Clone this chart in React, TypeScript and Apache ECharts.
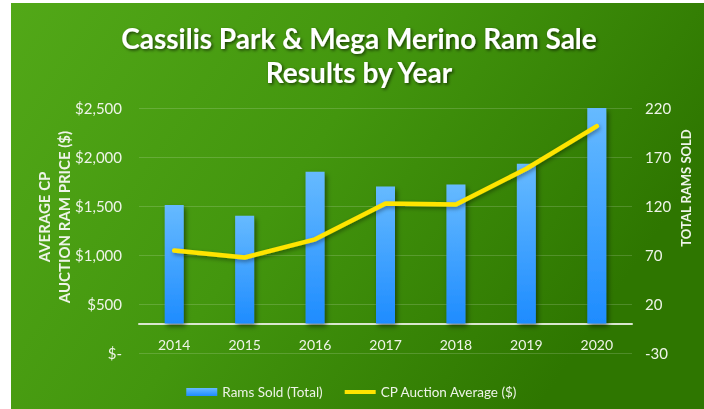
import React, { useEffect, useRef } from "react";
import * as echarts from "echarts";

const years = ["2014", "2015", "2016", "2017", "2018", "2019", "2020"];
const ramsSold = [121, 110, 155, 140, 142, 163, 220];
const auctionAverage = [1045, 975, 1160, 1525, 1515, 1880, 2315];
const leftTicks = { min: 0, max: 2500, interval: 500 };
const rightTicks = { min: -30, max: 220, interval: 50 };

const FONT = "Lato";
const LABEL = "#eef4e8";

export default function App() {
  const ref = useRef<HTMLDivElement>(null);
  useEffect(() => {
    const chart = echarts.init(ref.current!, null, { renderer: "svg" });
    const titleStyle = {
      font: `bold 28px ${FONT}`,
      fill: "#ffffff",
      align: "center",
      verticalAlign: "middle",
      textShadowColor: "rgba(0,0,0,0.6)",
      textShadowBlur: 3,
      textShadowOffsetX: 1.5,
      textShadowOffsetY: 1.5,
    };
    chart.setOption({
      animation: false,
      textStyle: { fontFamily: FONT },
      graphic: [
        {
          type: "rect",
          z: -10,
          shape: { x: 11, y: 3, width: 693, height: 406 },
          style: {
            fill: new echarts.graphic.LinearGradient(0, 0, 1, 0.4, [
              { offset: 0, color: "#52a818" },
              { offset: 0.5, color: "#43960e" },
              { offset: 1, color: "#2e7600" },
            ]),
          },
        },
        {
          type: "text",
          x: 359,
          y: 38,
          style: { text: "Cassilis Park & Mega Merino Ram Sale", ...titleStyle },
        },
        {
          type: "text",
          x: 359,
          y: 72,
          style: { text: "Results by Year", ...titleStyle },
        },
        {
          type: "text",
          x: 44,
          y: 217,
          rotation: Math.PI / 2,
          style: {
            text: "AVERAGE CP",
            font: `bold 15px ${FONT}`,
            fill: LABEL,
            align: "center",
            verticalAlign: "middle",
          },
        },
        {
          type: "text",
          x: 64,
          y: 217,
          rotation: Math.PI / 2,
          style: {
            text: "AUCTION RAM PRICE ($)",
            font: `bold 15px ${FONT}`,
            fill: LABEL,
            align: "center",
            verticalAlign: "middle",
          },
        },
        {
          type: "text",
          x: 686,
          y: 188,
          rotation: Math.PI / 2,
          style: {
            text: "TOTAL RAMS SOLD",
            font: `bold 13px ${FONT}`,
            fill: LABEL,
            align: "center",
            verticalAlign: "middle",
          },
        },
      ],
      grid: { left: 139, right: 72, top: 108, bottom: 56 },
      legend: {
        top: 380,
        left: "center",
        itemGap: 22,
        itemWidth: 31,
        itemHeight: 8,
        symbolKeepAspect: true,
        textStyle: { color: LABEL, fontSize: 13.5, fontFamily: FONT },
        data: [
          { name: "Rams Sold (Total)", icon: "rect" },
          {
            name: "CP Auction Average ($)",
            icon: "path://M0,2 L31,2 L31,6 L0,6 Z",
            itemStyle: { color: "#ffe400" },
          },
        ],
      },
      xAxis: {
        type: "category",
        data: years,
        axisLine: {
          onZero: true,
          onZeroAxisIndex: 1,
          lineStyle: { color: "#d9e6cf", width: 2 },
        },
        axisTick: { show: false },
        axisLabel: { color: LABEL, fontSize: 14, margin: -16 },
      },
      yAxis: [
        {
          type: "value",
          ...leftTicks,
          position: "left",
          axisLine: { show: false },
          axisTick: { show: false },
          splitLine: { lineStyle: { color: "rgba(255,255,255,0.16)", width: 1 } },
          axisLabel: {
            color: LABEL,
            fontSize: 15,
            margin: 17,
            formatter: (v: number) =>
              v === 0 ? "$-" : "$" + v.toLocaleString("en-US"),
          },
        },
        {
          type: "value",
          ...rightTicks,
          position: "right",
          axisLine: { show: false },
          axisTick: { show: false },
          splitLine: { show: false },
          axisLabel: { color: LABEL, fontSize: 15, margin: 13 },
        },
      ],
      series: [
        {
          name: "Rams Sold (Total)",
          type: "bar",
          yAxisIndex: 1,
          data: ramsSold,
          barWidth: 19,
          itemStyle: {
            color: new echarts.graphic.LinearGradient(0, 0, 0, 1, [
              { offset: 0, color: "#66baff" },
              { offset: 1, color: "#1e8cff" },
            ]),
            shadowColor: "rgba(0,0,0,0.5)",
            shadowBlur: 5,
            shadowOffsetX: 2,
            shadowOffsetY: 3,
          },
        },
        {
          name: "CP Auction Average ($)",
          type: "line",
          yAxisIndex: 0,
          data: auctionAverage,
          symbol: "none",
          lineStyle: {
            color: "#ffe400",
            width: 4.5,
            cap: "round",
            shadowColor: "rgba(0,0,0,0.4)",
            shadowBlur: 4,
            shadowOffsetX: 1,
            shadowOffsetY: 2,
          },
          itemStyle: { color: "#ffe400" },
        },
      ],
    });
    return () => chart.dispose();
  }, []);
  return (
    <div
      ref={ref}
      style={{ position: "fixed", left: 0, top: 0, width: 704, height: 409 }}
    />
  );
}
